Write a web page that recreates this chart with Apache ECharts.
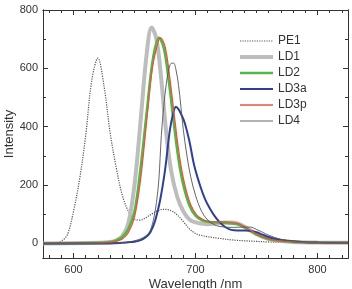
<!DOCTYPE html>
<html>
<head>
<meta charset="utf-8">
<script src="https://cdn.jsdelivr.net/npm/echarts@6/dist/echarts.min.js"></script>
<style>html,body{margin:0;padding:0;background:#fff}#c{width:352px;height:289px}</style>
</head>
<body>
<div id="c"></div>
<script>
const seriesNames = ['PE1', 'LD1', 'LD2', 'LD3a', 'LD3p', 'LD4'];

const pe1Wl = [575,580,585,590,595,600,605,610,615,620,625,630,635,640,645,650,655,660,665,670,675,680,685,690,695,700,705,710,720,730,740,750,760,780,800,825];
const pe1Int = [0,1,3,8,30,110,220,370,560,635,540,380,260,165,110,82,80,90,103,114,117,112,98,75,50,34,27,23,17,12,9,7,5,3,2,1];

const ld1Wl = [575,620,630,635,640,645,650,655,660,664,668,672,676,680,685,690,695,700,705,710,715,720,725,730,735,740,745,750,755,760,770,780,800,825];
const ld1Int = [0,2,5,10,25,70,200,420,650,740,700,560,380,250,160,110,82,72,68,66,67,70,72,72,68,58,45,32,22,15,8,5,3,2];

const ld2Wl = [575,620,630,635,640,645,650,655,660,665,670,674,678,682,686,690,695,700,705,710,715,720,725,730,735,740,745,750,755,760,770,780,800,825];
const ld2Int = [0,2,5,10,22,50,110,260,450,630,705,670,560,420,290,200,130,95,80,74,72,72,70,68,65,55,42,30,22,15,8,5,3,2];

const ld3aWl = [575,630,640,645,650,655,660,663,667,671,675,679,682,684,686,688,691,695,699,704,708,712,716,720,724,728,732,736,740,745,750,755,760,765,770,780,790,800,825];
const ld3aInt = [0,0,2,4,6,11,24,38,79,148,250,388,450,468,460,445,415,350,266,195,150,118,92,72,57,48,45,44,44,43,38,30,22,16,12,7,4,3,2];

const ld3pWl = [575,620,630,635,640,645,650,655,660,665,670,671,675,679,683,687,691,696,701,706,710,715,720,725,730,735,740,745,750,755,760,770,780,800,825];
const ld3pInt = [0,1,4,8,15,38,90,220,420,610,700,705,675,565,425,295,205,133,97,82,76,74,74,74,72,68,58,45,32,22,15,9,6,3,2];

const ld4Wl = [575,630,640,645,650,655,660,663,666,668,670,672,674,676,678,680,682,684,686,688,690,693,696,700,705,710,715,720,730,740,745,750,755,760,770,780,800,825];
const ld4Int = [0,1,3,5,9,16,28,45,90,140,220,370,470,545,595,617,618,595,545,470,390,300,230,165,110,80,65,58,55,56,56,48,38,28,14,8,4,2];

const xMajorTicks = [600, 700, 800];
const xMinorTicks = [580,590,610,620,630,640,650,660,670,680,690,710,720,730,740,750,760,770,780,790,810,820];
const yMajorTicks = [0, 200, 400, 600, 800];
const yMinorTicks = [100, 300, 500, 700];

function zip(a, b) { return a.map((v, i) => [v, b[i]]); }

const FONT = 'Liberation Sans';
const AX = '#333';
const X_MIN = 575, X_MAX = 825, Y_MIN = -50, Y_MAX = 800;

function xAx(pos, ticks, len, labels, name) {
  return {
    type: 'value', position: pos, min: X_MIN, max: X_MAX,
    name: name || '', nameLocation: 'middle', nameGap: 20, nameMoveOverlap: false,
    nameTextStyle: { fontFamily: FONT, fontSize: 13, color: '#333' },
    axisLine: { show: true, onZero: false, lineStyle: { color: AX, width: 1 } },
    axisTick: { show: true, inside: true, length: len, customValues: ticks, lineStyle: { color: AX, width: 1 } },
    axisLabel: labels ? { show: true, customValues: ticks, fontFamily: FONT, fontSize: 11, color: '#333', margin: 6 } : { show: false },
    splitLine: { show: false }
  };
}
function yAx(pos, ticks, len, labels, name) {
  return {
    type: 'value', position: pos, min: Y_MIN, max: Y_MAX,
    name: name || '', nameLocation: 'middle', nameGap: 27, nameRotate: 90, nameMoveOverlap: false,
    nameTextStyle: { fontFamily: FONT, fontSize: 13, color: '#333' },
    axisLine: { show: true, onZero: false, lineStyle: { color: AX, width: 1 } },
    axisTick: { show: true, inside: true, length: len, customValues: ticks, lineStyle: { color: AX, width: 1 } },
    axisLabel: labels ? { show: true, customValues: ticks, fontFamily: FONT, fontSize: 11, color: '#333', margin: 5 } : { show: false },
    splitLine: { show: false }
  };
}

const styles = [
  { color: '#555', width: 1.2, type: 'dotted' },
  { color: '#bdbdbd', width: 4, type: 'solid' },
  { color: '#4fb846', width: 2.5, type: 'solid' },
  { color: '#2f3f98', width: 2, type: 'solid' },
  { color: '#e4573c', width: 1.3, type: 'solid' },
  { color: '#555', width: 0.9, type: 'solid' }
];
const dataSets = [
  zip(pe1Wl, pe1Int), zip(ld1Wl, ld1Int), zip(ld2Wl, ld2Int),
  zip(ld3aWl, ld3aInt), zip(ld3pWl, ld3pInt), zip(ld4Wl, ld4Int)
];

const chart = echarts.init(document.getElementById('c'), null, { renderer: 'canvas' });
chart.setOption({
  animation: false,
  backgroundColor: '#fff',
  grid: { left: 43, right: 4, top: 10, bottom: 31, containLabel: false, outerBoundsMode: 'none' },
  legend: {
    orient: 'vertical', left: 233, top: 29,
    itemWidth: 33, itemHeight: 14, itemGap: 2,
    itemStyle: { opacity: 0, borderWidth: 0 },
    textStyle: { fontFamily: FONT, fontSize: 12, color: '#333', lineHeight: 14 },
    data: seriesNames.map((n, i) => ({
      name: n,
      lineStyle: { width: styles[i].width, type: styles[i].type, color: styles[i].color }
    }))
  },
  xAxis: [
    xAx('bottom', xMajorTicks, 5, true, 'Wavelength /nm'),
    xAx('bottom', xMinorTicks, 3, false),
    xAx('top', xMajorTicks, 5, false),
    xAx('top', xMinorTicks, 3, false)
  ],
  yAxis: [
    yAx('left', yMajorTicks, 5, true, 'Intensity'),
    yAx('left', yMinorTicks, 3, false),
    yAx('right', yMajorTicks, 5, false),
    yAx('right', yMinorTicks, 3, false)
  ],
  series: seriesNames.map((n, i) => ({
    name: n, type: 'line', xAxisIndex: 0, yAxisIndex: 0,
    data: dataSets[i], smooth: 0.35, symbol: 'none', showSymbol: false,
    color: styles[i].color,
    lineStyle: { color: styles[i].color, width: styles[i].width, type: styles[i].type },
    z: 2 + i
  }))
});
</script>
</body>
</html>
